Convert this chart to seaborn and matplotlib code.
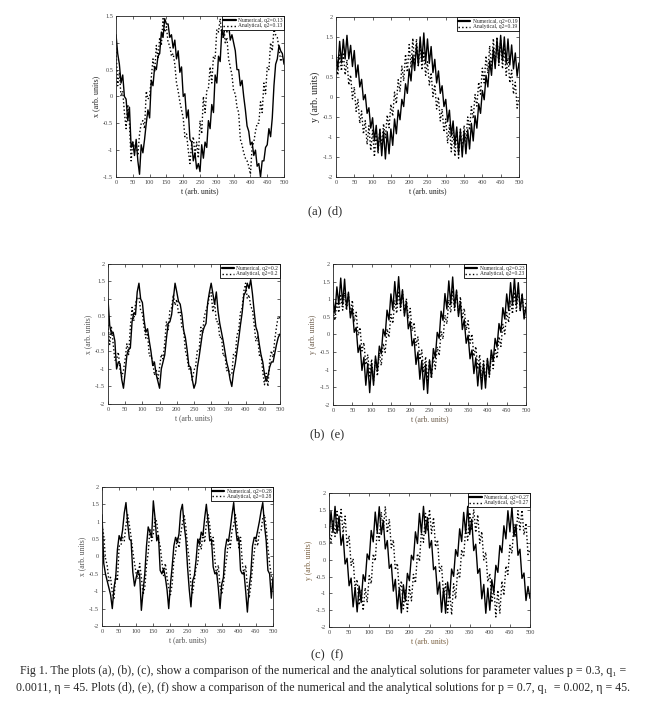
import numpy as np
import matplotlib
matplotlib.use('Agg')
import matplotlib.pyplot as plt
from matplotlib.ticker import FuncFormatter, MultipleLocator
import seaborn as sns

# time samples (every 5 arb. units)
t = np.arange(0, 505, 5)

# (a) x(t), p = 0.3
a_num = [1.15, 0.8, 0.6, 0.25, 0.4, 0.0, -0.05, -0.45, -0.2, -0.95,
         -0.85, -1.1, -0.8, -1.2, -1.45, -0.9, -1.05, -0.8, -0.5, -0.25,
         -0.4, 0.3, 0.2, 0.55, 0.5, 0.75, 0.8, 1.2, 1.1, 1.45,
         1.35, 1.35, 1.1, 1.15, 0.9, 1.05, 0.7, 0.85, 0.45, 0.55,
         0.0, 0.05, -0.4, -0.25, -0.8, -0.85, -1.2, -1.05, -1.35, -1.25,
         -1.4, -0.9, -1.15, -0.85, -0.95, -0.45, -0.6, -0.15, -0.3, 0.4,
         0.25, 0.75, 0.65, 1.25, 1.1, 1.4, 1.2, 1.35, 1.05, 1.15,
         1.0, 0.85, 0.5, 0.5, 0.2, 0.3, 0.0, -0.25, -0.55, -0.65,
         -0.9, -0.85, -1.1, -1.0, -1.3, -1.25, -1.5, -1.2, -1.2, -0.95,
         -0.9, -0.6, -0.75, -0.4, 0.2, 0.6, 0.7, 0.95, 0.85, 0.8,
         0.6]
a_ana = [0.9, 0.2, 0.45, 0.0, 0.1, -0.3, -0.6, -0.15, -0.5, -1.2,
         -0.85, -0.95, -0.9, -1.1, -0.7, -0.5, -0.45, -0.6, 0.1, -0.05,
         0.0, 0.35, 0.7, 0.45, 0.95, 0.7, 1.1, 0.95, 1.45, 1.2,
         1.3, 1.0, 0.95, 0.75, 0.8, 0.6, 0.25, 0.1, -0.1, -0.25,
         -0.4, -0.75, -0.7, -1.0, -1.25, -0.9, -0.75, -1.1, -0.85, -1.15,
         -0.45, -0.7, 0.0, -0.3, 0.1, 0.15, 0.55, 0.25, 0.75, 0.7,
         1.25, 1.2, 1.45, 1.1, 1.4, 1.0, 1.1, 0.7, 0.55, 0.4,
         0.1, 0.05, -0.2, -0.3, -0.8, -0.9, -1.05, -1.15, -1.2, -1.3,
         -1.45, -0.95, -0.85, -0.65, -0.5, -0.5, -0.1, -0.3, 0.25, 0.05,
         0.55, 0.5, 1.0, 0.85, 1.25, 1.15, 1.1, 0.9, 0.65, 0.75,
         0.65]

# (d) y(t), p = 0.7
d_num = [1.05, 0.70, 1.39, 0.85, 1.44, 0.95, 1.54, 0.95, 1.29, 0.76,
         1.16, 0.49, 0.80, 0.25, 0.44, -0.07, 0.06, -0.41, -0.27, -0.78,
         -0.52, -1.10, -0.71, -1.35, -0.82, -1.47, -0.85, -1.55, -0.87, -1.42,
         -0.80, -1.21, -0.55, -0.92, -0.33, -0.57, -0.06, -0.24, 0.33, 0.09,
         0.70, 0.40, 1.04, 0.66, 1.31, 0.79, 1.50, 0.89, 1.60, 0.84,
         1.45, 0.84, 1.26, 0.61, 0.94, 0.35, 0.65, 0.09, 0.28, -0.24,
         -0.06, -0.62, -0.33, -0.97, -0.60, -1.21, -0.75, -1.42, -0.82, -1.50,
         -0.85, -1.42, -0.82, -1.30, -0.66, -1.10, -0.47, -0.78, -0.17, -0.41,
         0.16, -0.07, 0.54, 0.25, 0.90, 0.54, 1.21, 0.71, 1.44, 0.85,
         1.54, 0.90, 1.50, 0.83, 1.45, 0.80, 1.30, 0.70, 1.10, 0.52,
         0.85]
d_ana = [0.90, 0.55, 1.05, 0.65, 1.11, 0.55, 0.93, 0.30, 0.55, -0.05,
         0.25, -0.36, -0.06, -0.66, -0.35, -0.93, -0.59, -1.19, -0.72, -1.34,
         -0.83, -1.50, -0.90, -1.42, -0.78, -1.26, -0.67, -1.02, -0.45, -0.77,
         -0.18, -0.48, 0.12, -0.17, 0.43, 0.13, 0.77, 0.40, 1.07, 0.62,
         1.31, 0.73, 1.47, 0.80, 1.45, 0.78, 1.34, 0.67, 1.14, 0.54,
         0.88, 0.30, 0.61, 0.01, 0.31, -0.30, 0.00, -0.60, -0.30, -0.88,
         -0.55, -1.16, -0.70, -1.37, -0.81, -1.49, -0.85, -1.53, -0.80, -1.34,
         -0.71, -1.12, -0.50, -0.83, -0.24, -0.54, 0.06, -0.23, 0.37, 0.07,
         0.72, 0.35, 1.03, 0.59, 1.28, 0.70, 1.46, 0.79, 1.50, 0.79,
         1.41, 0.70, 1.23, 0.54, 0.98, 0.35, 0.67, 0.07, 0.37, -0.28,
         -0.04]

# (b) x(t), p = 0.3
b_num = [1.0, 0.25, 0.0, 0.05, -0.2, -1.0, -0.8, -0.85, -1.3, -1.55,
         -1.1, -0.6, -0.45, -0.4, 0.35, 0.6, 0.55, 1.2, 1.45, 1.0,
         0.9, 0.4, 0.05, 0.15, -0.2, -0.5, -0.9, -0.8, -1.15, -1.35,
         -1.55, -1.0, -0.8, -0.6, -0.12, 0.3, 0.35, 0.55, 1.0, 1.45,
         1.2, 0.93, 0.85, 0.55, 0.1, -0.1, -0.45, -0.9, -0.95, -1.3,
         -1.55, -1.4, -0.95, -0.65, -0.3, 0.05, 0.2, 0.3, 0.9, 1.2,
         1.45, 1.15, 0.85, 1.2, 0.65, 0.3, 0.05, -0.2, -0.5, -0.8,
         -1.0, -1.3, -1.5, -1.1, -0.85, -0.5, -0.15, 0.25, 0.6, 1.1,
         1.2, 1.45, 1.3, 1.55, 1.15, 0.65, 0.2, 0.05, -0.3, -0.6,
         -0.8, -1.15, -1.35, -1.2, -0.95, -0.8, -0.8, -0.55, -0.3, -0.1,
         0.0]
b_ana = [0.26, -0.30, 0.19, -0.27, -0.75, -0.73, -0.52, -1.00, -1.22, -1.04,
         -0.71, -0.28, -0.59, 0.20, 0.76, 0.37, 0.87, 1.03, 1.05, 0.67,
         0.59, 0.19, -0.12, 0.03, -0.63, -0.62, -0.78, -1.18, -1.00, -1.32,
         -0.95, -0.58, -0.71, -0.25, 0.36, 0.10, 0.67, 0.75, 1.13, 0.82,
         0.99, 0.57, 0.62, 0.19, 0.11, -0.48, -0.67, -1.01, -0.96, -1.32,
         -1.04, -0.91, -0.45, -0.46, 0.19, 0.02, 0.51, 0.67, 0.82, 1.08,
         1.18, 0.62, 0.92, 0.35, 0.36, -0.11, -0.07, -0.63, -0.58, -1.05,
         -1.01, -1.18, -1.14, -0.57, -0.63, -0.03, 0.11, 0.61, 0.74, 1.22,
         1.45, 1.01, 1.12, 0.78, 0.70, 0.27, -0.21, -0.06, -0.61, -0.58,
         -1.08, -1.45, -1.12, -1.50, -0.78, -0.48, -0.67, -0.16, 0.21, 0.50,
         0.45]

# (e) y(t), p = 0.7
e_num = [1.00, 0.60, 1.35, 0.85, 1.60, 0.85, 1.57, 0.74, 1.20, 0.47,
         0.75, 0.06, 0.20, -0.51, -0.30, -1.02, -0.65, -1.44, -0.82, -1.65,
         -0.82, -1.44, -0.61, -1.04, -0.33, -0.55, 0.15, -0.05, 0.69, 0.41,
         1.15, 0.70, 1.50, 0.85, 1.64, 0.78, 1.27, 0.52, 0.93, 0.16,
         0.37, -0.32, -0.12, -0.85, -0.50, -1.27, -0.74, -1.57, -0.85, -1.67,
         -0.72, -1.21, -0.40, -0.66, 0.06, -0.11, 0.66, 0.40, 1.16, 0.72,
         1.52, 0.85, 1.63, 0.76, 1.26, 0.51, 0.94, 0.14, 0.42, -0.25,
         -0.02, -0.69, -0.44, -1.11, -0.66, -1.46, -0.83, -1.55, -0.83, -1.52,
         -0.68, -1.15, -0.44, -0.76, -0.11, -0.36, 0.31, 0.06, 0.76, 0.44,
         1.15, 0.68, 1.47, 0.83, 1.60, 0.83, 1.47, 0.68, 1.15, 0.44,
         0.76]
e_ana = [0.66, 0.40, 0.93, 0.62, 1.10, 0.69, 1.18, 0.68, 1.15, 0.58,
         0.97, 0.36, 0.63, -0.03, 0.20, -0.47, -0.23, -0.86, -0.57, -1.18,
         -0.70, -1.33, -0.70, -1.18, -0.52, -0.88, -0.25, -0.51, 0.16, -0.08,
         0.57, 0.31, 0.97, 0.60, 1.24, 0.68, 1.22, 0.62, 1.02, 0.45,
         0.74, 0.10, 0.34, -0.31, -0.07, -0.72, -0.44, -1.08, -0.63, -1.30,
         -0.73, -1.25, -0.62, -0.98, -0.35, -0.60, 0.08, -0.13, 0.55, 0.30,
         0.98, 0.62, 1.25, 0.68, 1.21, 0.60, 1.07, 0.44, 0.74, 0.12,
         0.39, -0.25, 0.01, -0.62, -0.34, -0.99, -0.57, -1.25, -0.71, -1.33,
         -0.71, -1.21, -0.58, -0.97, -0.39, -0.68, -0.06, -0.34, 0.29, 0.01,
         0.63, 0.34, 0.97, 0.58, 1.21, 0.66, 1.28, 0.66, 1.16, 0.53,
         0.92]

# (c) x(t), p = 0.3
c_num = [1.2, -0.2, -0.5, -0.7, -0.9, -1.1, -1.5, -0.9, -0.6, 0.2,
         0.6, 0.45, 0.75, 1.25, 1.55, 0.95, 0.5, 0.45, -0.45, -0.85,
         -0.6, -0.4, -0.55, -1.55, -1.0, -0.5, 0.3, 0.85, 0.7, 0.55,
         1.6, 1.1, 0.45, 0.6, -0.4, -0.5, -0.35, -0.6, -0.95, -1.5,
         -0.8, -0.3, 0.3, 0.55, 0.4, 0.65, 1.3, 1.5, 0.9, 0.5,
         -0.3, -0.95, -1.45, -0.7, -0.55, -0.1, 0.5, 0.35, 0.7, 0.6,
         1.1, 1.5, 1.0, 0.45, 0.5, -0.3, -0.5, -0.45, -0.9, -1.5,
         -0.8, -0.6, 0.2, 0.5, 0.45, 0.8, 1.2, 1.55, 0.9, 0.45,
         0.55, -0.4, -0.5, -0.45, -1.0, -1.6, -0.9, -0.5, 0.3, 0.55,
         0.5, 0.75, 1.0, 1.3, 1.55, 0.9, 0.45, -0.4, -0.5, -1.2,
         -0.6]
c_ana = [0.9, 0.6, -0.05, -0.25, -0.7, -0.6, -1.05, -1.2, -0.55, -0.7,
         0.3, 0.3, 0.55, 0.45, 0.9, 1.2, 0.9, 0.55, 0.15, -0.2,
         -0.5, -0.65, -0.2, -0.6, -1.1, -0.9, -0.25, 0.1, 0.8, 0.45,
         0.65, 1.1, 1.0, 0.5, 0.3, -0.15, -0.55, -0.2, -0.6, -0.9,
         -1.1, -0.8, -0.1, 0.1, 0.55, 0.25, 0.65, 0.95, 1.2, 0.85,
         0.3, -0.1, -0.85, -1.05, -0.7, -0.3, -0.2, 0.5, 0.2, 0.7,
         0.4, 0.95, 1.2, 0.9, 0.3, 0.55, -0.1, -0.55, -0.25, -0.85,
         -1.1, -0.8, -0.35, 0.0, 0.5, 0.25, 0.75, 0.9, 1.2, 0.85,
         0.25, 0.55, -0.15, -0.55, -0.25, -0.9, -1.2, -0.85, -0.3, 0.1,
         0.55, 0.3, 0.7, 0.75, 1.1, 1.2, 0.85, 0.25, -0.2, -0.55,
         -0.9]

# (f) y(t), p = 0.7
f_num = [0.65, 1.45, 0.82, 1.60, 0.80, 1.31, 0.44, 0.76, -0.12, 0.05,
         -0.77, -0.54, -1.40, -0.82, -1.55, -0.78, -1.27, -0.44, -0.64, 0.18,
         0.01, 0.88, 0.54, 1.43, 0.83, 1.59, 0.76, 1.18, 0.33, 0.58,
         -0.25, -0.13, -0.93, -0.58, -1.46, -0.84, -1.58, -0.74, -1.23, -0.40,
         -0.62, 0.14, 0.00, 0.84, 0.49, 1.39, 0.81, 1.60, 0.79, 1.27,
         0.36, 0.58, -0.29, -0.20, -1.02, -0.66, -1.56, -0.85, -1.59, -0.66,
         -1.12, -0.27, -0.49, 0.31, 0.11, 0.93, 0.55, 1.42, 0.82, 1.60,
         0.76, 1.21, 0.28, 0.47, -0.40, -0.26, -1.16, -0.73, -1.59, -0.84,
         -1.50, -0.59, -0.98, -0.16, -0.37, 0.43, 0.22, 1.02, 0.63, 1.47,
         0.84, 1.58, 0.70, 1.06, 0.14, 0.32, -0.55, -0.39, -1.21, -0.79,
         -1.15]
f_ana = [0.88, 0.52, 1.21, 0.70, 1.45, 0.88, 1.51, 0.81, 1.31, 0.43,
         0.73, -0.16, 0.04, -0.85, -0.58, -1.35, -0.88, -1.51, -0.83, -1.27,
         -0.47, -0.71, 0.18, -0.03, 0.91, 0.58, 1.43, 0.89, 1.60, 0.81,
         1.22, 0.36, 0.60, -0.30, -0.10, -0.96, -0.62, -1.46, -0.90, -1.54,
         -0.79, -1.22, -0.43, -0.69, 0.19, -0.04, 0.87, 0.53, 1.39, 0.87,
         1.51, 0.79, 1.27, 0.39, 0.60, -0.34, -0.17, -1.06, -0.71, -1.57,
         -0.91, -1.64, -0.71, -1.16, -0.30, -0.55, 0.31, 0.08, 0.96, 0.59,
         1.42, 0.88, 1.51, 0.82, 1.35, 0.50, 0.85, 0.00, 0.23, -0.65,
         -0.40, -1.27, -0.80, -1.70, -0.90, -1.60, -0.63, -1.06, -0.18, -0.43,
         0.44, 0.19, 1.06, 0.68, 1.47, 0.90, 1.49, 0.75, 1.10, 0.16,
         0.32]

q2_labels = ['0.13', '0.19', '0.2', '0.23', '0.28', '0.27']

sns.set_theme(style='ticks')
plt.rcParams['font.family'] = ['Liberation Serif', 'DejaVu Serif']
plt.rcParams['axes.linewidth'] = 0.6

fig = plt.figure(figsize=(6.47, 7.09), dpi=100)

# [left, bottom, width, height] in figure fraction, from the reference layout
panels = [
    ([0.1793, 0.7504, 0.2597, 0.2271], a_num, a_ana, q2_labels[0], 'x (arb. units)', 1.5, '#222222', 5.8),
    ([0.5193, 0.7504, 0.2828, 0.2257], d_num, d_ana, q2_labels[1], 'y (arb. units)', 2, '#222222', 7),
    ([0.1669, 0.4302, 0.2658, 0.1975], b_num, b_ana, q2_labels[2], 'x (arb. units)', 2, '#555555', 5.5),
    ([0.5147, 0.4288, 0.2983, 0.1989], e_num, e_ana, q2_labels[3], 'y (arb. units)', 2, '#6b5a48', 5.5),
    ([0.1577, 0.1171, 0.2643, 0.1961], c_num, c_ana, q2_labels[4], 'x (arb. units)', 2, '#555555', 5.5),
    ([0.5085, 0.1157, 0.3107, 0.1890], f_num, f_ana, q2_labels[5], 'y (arb. units)', 2, '#7a6040', 5.5),
]

fmt = FuncFormatter(lambda v, pos: '{:g}'.format(round(v, 2)))

for rect, num, ana, q2, ylab, ylim, lab_col, ylab_size in panels:
    ax = fig.add_axes(rect)
    sns.lineplot(x=t, y=num, ax=ax, color='black', linewidth=1.0,
                 label='Numerical, q2={}'.format(q2))
    sns.lineplot(x=t, y=ana, ax=ax, color='black', linewidth=1.0,
                 linestyle=':', label='Analytical, q2={}'.format(q2))
    ax.set_xlim(0, 500)
    ax.set_ylim(-ylim, ylim)
    ax.xaxis.set_major_locator(MultipleLocator(50))
    ax.yaxis.set_major_locator(MultipleLocator(0.5))
    ax.yaxis.set_major_formatter(fmt)
    ax.tick_params(direction='in', top=True, right=True, length=2.5,
                   width=0.5, labelsize=4.5, pad=2, labelcolor='#444444')
    for sp in ax.spines.values():
        sp.set_visible(True)
        sp.set_linewidth(0.6)
        sp.set_color('#222222')
    ax.set_xlabel('t (arb. units)', fontsize=5.5, labelpad=1.5, color=lab_col)
    ax.set_ylabel(ylab, fontsize=ylab_size, labelpad=2, color=lab_col)
    leg = ax.legend(loc='upper right', fontsize=4, frameon=True, fancybox=False,
                    edgecolor='black', framealpha=1, borderaxespad=0,
                    handlelength=2.2, borderpad=0.3, labelspacing=0.15,
                    handletextpad=0.4)
    leg.get_frame().set_linewidth(0.6)
    leg.get_lines()[0].set_linewidth(1.6)

fig.text(0.502, 0.7024, '(a)  (d)', ha='center', va='center', fontsize=9)
fig.text(0.505, 0.388, '(b)  (e)', ha='center', va='center', fontsize=9)
fig.text(0.505, 0.0762, '(c)  (f)', ha='center', va='center', fontsize=9)

line1 = ('Fig 1. The plots (a), (b), (c), show a comparison of the numerical and the analytical '
         'solutions for parameter values p = 0.3, q\u2081 =')
line2 = ('0.0011, \u03b7 = 45. Plots (d), (e), (f) show a comparison of the numerical and the '
         'analytical solutions for p = 0.7, q\u2081  = 0.002, \u03b7 = 45.')
fig.text(0.5, 0.0536, line1, ha='center', va='center', fontsize=8.6)
fig.text(0.5, 0.0296, line2, ha='center', va='center', fontsize=8.6)

fig.savefig('out.png', dpi=100)
